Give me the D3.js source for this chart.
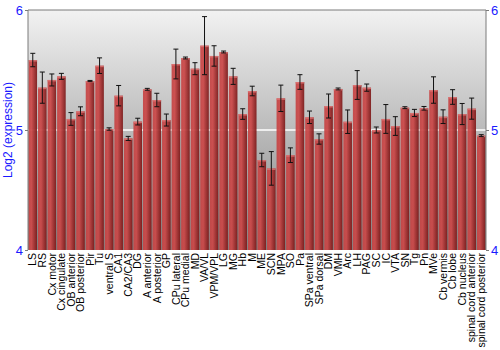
<!DOCTYPE html>
<html lang="en">
<head>
<meta charset="UTF-8">
<title>Log2 expression by region</title>
<script src="https://d3js.org/d3.v7.min.js"></script>
<style>
    body { margin: 0; background: #fff; }
    .tick-label { font-family: Arial, "Liberation Sans", sans-serif; font-size: 13px; fill: #1a1aff; }
    .cat-label { font-family: Arial, "Liberation Sans", sans-serif; font-size: 10.5px; fill: #000; }
    .y-title { font-family: Arial, "Liberation Sans", sans-serif; font-size: 12px; fill: #1a1aff; }
</style>
</head>
<body>
<div id="chart"></div>
<script>
const regions = ["LS", "RS", "Cx motor", "Cx cingulate", "OB anterior", "OB posterior", "Pir", "Tu",
    "ventral S", "CA1", "CA2/CA3", "DG", "A anterior", "A posterior", "GP", "CPu lateral",
    "CPu medial", "MD", "VA/VL", "VPM/VPL", "LG", "MG", "Hb", "M", "ME", "SCN", "MPA", "SO",
    "Pa", "SPa ventral", "SPa dorsal", "DM", "VMH", "Arc", "LH", "PAG", "SC", "IC", "VTA",
    "SN", "Tg", "Pn", "MVe", "Cb vermis", "Cb lobe", "Cb nucleus", "spinal cord anterior",
    "spinal cord posterior"];

const expression = [5.583, 5.353, 5.417, 5.447, 5.092, 5.156, 5.408, 5.536,
    5.008, 5.286, 4.930, 5.070, 5.339, 5.250, 5.083, 5.550,
    5.600, 5.511, 5.703, 5.617, 5.650, 5.447, 5.133, 5.325, 4.750, 4.680, 5.264, 4.790,
    5.400, 5.106, 4.925, 5.200, 5.342, 5.069, 5.375, 5.353, 5.000, 5.092, 5.033,
    5.186, 5.142, 5.181, 5.333, 5.111, 5.275, 5.133, 5.178,
    4.953];

const errors = [0.056, 0.130, 0.050, 0.025, 0.053, 0.037, 0.005, 0.065,
    0.010, 0.085, 0.017, 0.028, 0.008, 0.056, 0.050, 0.124,
    0.008, 0.050, 0.242, 0.085, 0.008, 0.067, 0.044, 0.040, 0.056, 0.140, 0.110, 0.061,
    0.061, 0.052, 0.043, 0.100, 0.008, 0.098, 0.120, 0.030, 0.025, 0.120, 0.078,
    0.008, 0.030, 0.015, 0.110, 0.057, 0.061, 0.088, 0.088,
    0.008];

const yTicks = [4, 5, 6];

const margin = { top: 10, right: 14, bottom: 100, left: 28 },
      width = 500 - margin.left - margin.right,
      height = 350 - margin.top - margin.bottom;

const svg = d3.select("#chart").append("svg")
    .attr("width", 500)
    .attr("height", 350);

const defs = svg.append("defs");

// grey background fading from light at top to darker at bottom
const bg = defs.append("linearGradient")
    .attr("id", "bgGrad")
    .attr("x1", 0).attr("y1", 0).attr("x2", 0).attr("y2", 1);
bg.append("stop").attr("offset", "0%").attr("stop-color", "#f2f2f2");
bg.append("stop").attr("offset", "100%").attr("stop-color", "#838383");

// bars shaded like a cylinder, light on the left
const barGrad = defs.append("linearGradient")
    .attr("id", "barGrad")
    .attr("x1", 0).attr("y1", 0).attr("x2", 1).attr("y2", 0);
barGrad.append("stop").attr("offset", "0%").attr("stop-color", "#c44444");
barGrad.append("stop").attr("offset", "35%").attr("stop-color", "#cc4848");
barGrad.append("stop").attr("offset", "100%").attr("stop-color", "#7a1818");

const g = svg.append("g")
    .attr("transform", `translate(${margin.left},${margin.top})`);

const x = d3.scaleBand()
    .domain(regions)
    .range([0, width])
    .paddingInner(0.1)
    .paddingOuter(0.05);

const y = d3.scaleLinear()
    .domain([4, 6])
    .range([height, 0]);

g.append("rect")
    .attr("width", width)
    .attr("height", height)
    .attr("fill", "url(#bgGrad)");

// white grid line at 5
g.append("line")
    .attr("x1", 0).attr("x2", width)
    .attr("y1", y(5)).attr("y2", y(5))
    .attr("stroke", "#ffffff")
    .attr("stroke-width", 1.5);

const data = regions.map((r, i) => ({ region: r, value: expression[i], err: errors[i] }));

const bars = g.selectAll(".bar").data(data).enter().append("g");

bars.append("rect")
    .attr("x", d => x(d.region))
    .attr("y", d => y(d.value))
    .attr("width", x.bandwidth())
    .attr("height", d => height - y(d.value))
    .attr("fill", "url(#barGrad)")
    .attr("opacity", 0.93);

// light rim on top of each bar
bars.append("rect")
    .attr("x", d => x(d.region))
    .attr("y", d => y(d.value))
    .attr("width", x.bandwidth())
    .attr("height", 1.5)
    .attr("fill", "#e07878")
    .attr("opacity", 0.8);

// error bars
const eb = g.selectAll(".err").data(data).enter().append("g")
    .attr("stroke", "#111")
    .attr("stroke-width", 1);
eb.append("line")
    .attr("x1", d => x(d.region) + x.bandwidth() / 2)
    .attr("x2", d => x(d.region) + x.bandwidth() / 2)
    .attr("y1", d => y(d.value + d.err))
    .attr("y2", d => y(d.value - d.err));
eb.append("line")
    .attr("x1", d => x(d.region) + x.bandwidth() / 2 - 2.5)
    .attr("x2", d => x(d.region) + x.bandwidth() / 2 + 2.5)
    .attr("y1", d => y(d.value + d.err))
    .attr("y2", d => y(d.value + d.err));
eb.append("line")
    .attr("x1", d => x(d.region) + x.bandwidth() / 2 - 2.5)
    .attr("x2", d => x(d.region) + x.bandwidth() / 2 + 2.5)
    .attr("y1", d => y(d.value - d.err))
    .attr("y2", d => y(d.value - d.err));

// frame lines: left, right, top
const frame = "#7a7a7a";
g.append("line").attr("x1", 0).attr("x2", 0).attr("y1", 0).attr("y2", height).attr("stroke", frame);
g.append("line").attr("x1", width).attr("x2", width).attr("y1", 0).attr("y2", height).attr("stroke", frame);
g.append("line").attr("x1", 0).attr("x2", width).attr("y1", 0).attr("y2", 0).attr("stroke", frame);

// left axis
const left = g.append("g")
    .call(d3.axisLeft(y).tickValues(yTicks).tickSize(3).tickFormat(d3.format("d")));
left.select(".domain").remove();
left.selectAll("line").attr("stroke", frame);
left.selectAll("text").attr("class", "tick-label").attr("x", -5).attr("fill", null);

// right axis
const right = g.append("g")
    .attr("transform", `translate(${width},0)`)
    .call(d3.axisRight(y).tickValues(yTicks).tickSize(3).tickFormat(d3.format("d")));
right.select(".domain").remove();
right.selectAll("line").attr("stroke", frame);
right.selectAll("text").attr("class", "tick-label").attr("x", 5).attr("fill", null);

svg.selectAll(".tick text").attr("font-size", null).attr("font-family", null);

// category labels, rotated
const xAxis = g.append("g")
    .attr("transform", `translate(0,${height})`)
    .call(d3.axisBottom(x).tickSize(0));
xAxis.select(".domain").remove();
xAxis.selectAll("text")
    .attr("class", "cat-label")
    .attr("fill", null)
    .attr("font-size", null)
    .attr("font-family", null)
    .attr("transform", "rotate(-90)")
    .attr("x", -3)
    .attr("y", 0)
    .attr("dy", "0.35em")
    .style("text-anchor", "end");

// y title
svg.append("text")
    .attr("class", "y-title")
    .attr("transform", `translate(12,${margin.top + height / 2}) rotate(-90)`)
    .attr("text-anchor", "middle")
    .text("Log2 (expression)");
</script>
</body>
</html>
